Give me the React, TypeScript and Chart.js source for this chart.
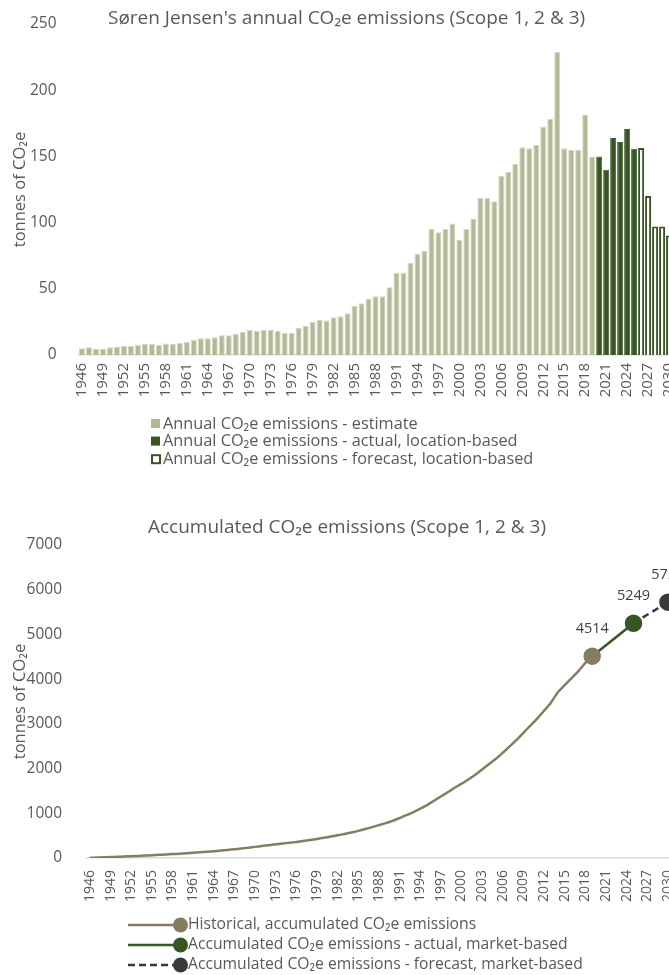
import React, { useEffect, useRef } from 'react';
import { Chart, registerables } from 'chart.js';

Chart.register(...registerables);

const FONT = '"Open Sans", sans-serif';
const TEXT = '#595959';

const years = [
  '1946','1947','1948','1949','1950','1951','1952','1953','1954','1955',
  '1956','1957','1958','1959','1960','1961','1962','1963','1964','1965',
  '1966','1967','1968','1969','1970','1971','1972','1973','1974','1975',
  '1976','1977','1978','1979','1980','1981','1982','1983','1984','1985',
  '1986','1987','1988','1989','1990','1991','1992','1993','1994','1995',
  '1996','1997','1998','1999','2000','2001','2002','2003','2004','2005',
  '2006','2007','2008','2009','2010','2011','2012','2013','2014','2015',
  '2016','2017','2018','2019','2020','2021','2022','2023','2024','2025',
  '2026','2027','2028','2029','2030','2031','2032','2033','2034','2035',
  '2036','2037','2038','2039','2040','2041','2042','2043','2044','2045',
];

const xTickLabels = [
  '1946','1949','1952','1955','1958','1961','1964','1967','1970','1973',
  '1976','1979','1982','1985','1988','1991','1994','1997','2000','2003',
  '2006','2009','2012','2015','2018','2021','2024','2027','2030','2033',
  '2036','2039','2042','2045',
];

// Annual emissions (tonnes CO2e)
const estimateStart = '1946';
const estimateValues = [
  5.1, 5.8, 4.8, 4.8, 5.8, 6.0, 6.8, 6.8, 7.6, 8.3,
  8.3, 7.8, 8.6, 8.3, 9.3, 9.8, 11.3, 12.6, 12.6, 13.4,
  14.9, 14.9, 16.1, 17.6, 18.9, 18.2, 18.9, 18.9, 18.2, 16.6,
  16.6, 20.4, 21.9, 25.0, 26.5, 26.0, 28.5, 29.2, 31.5, 37.1,
  39.1, 42.4, 44.3, 44.3, 51.2, 62.0, 62.3, 69.6, 76.2, 78.7,
  95.3, 92.8, 95.3, 99.3, 87.0, 95.3, 102.9, 118.5, 118.5, 116.2,
  135.4, 138.2, 144.3, 157.0, 156.2, 158.8, 172.5, 178.3, 229.0, 156.1,
  155.1, 155.1, 181.5, 150.0,
];
const actualStart = '2020';
const actualValues = [150.0, 140.0, 163.9, 160.9, 170.7, 155.8];
const forecastStart = '2026';
const forecastValues = [156.3, 120.0, 97.1, 97.1, 90.2];

// Accumulated emissions (tonnes CO2e)
const historicalStart = '1946';
const historicalAccum = [
  5, 11, 16, 21, 27, 33, 40, 46, 54, 63,
  71, 79, 88, 96, 105, 115, 127, 140, 152, 166,
  181, 196, 212, 230, 249, 268, 287, 306, 324, 341,
  358, 379, 401, 426, 453, 479, 508, 538, 570, 607,
  647, 690, 735, 779, 831, 894, 957, 1028, 1105, 1184,
  1281, 1375, 1471, 1572, 1660, 1756, 1861, 1981, 2101, 2218,
  2355, 2495, 2641, 2800, 2959, 3119, 3294, 3474, 3706, 3864,
  4021, 4179, 4362, 4514,
];
const actualAccumStart = '2019';
const actualAccum = [4514, 4636, 4759, 4882, 5004, 5127, 5249];
const forecastAccumStart = '2025';
const forecastAccum = [5249, 5344, 5439, 5533, 5628, 5722];

const topTitle = "Søren Jensen's annual CO\u2082e emissions (Scope 1, 2 & 3)";
const bottomTitle = 'Accumulated CO\u2082e emissions (Scope 1, 2 & 3)';
const yTitle = 'tonnes of CO\u2082e';
const barLabels = [
  'Annual CO\u2082e emissions - estimate',
  'Annual CO\u2082e emissions - actual, location-based',
  'Annual CO\u2082e emissions - forecast, location-based',
];
const lineLabels = [
  'Historical, accumulated CO\u2082e emissions',
  'Accumulated CO\u2082e emissions - actual, market-based',
  'Accumulated CO\u2082e emissions - forecast, market-based',
];

const C_EST = '#b1b995';
const C_ACT = '#375623';
const C_HIST = '#857d62';
const C_FC = '#3a3a3a';

function place(start: string, values: number[]) {
  const out: (number | null)[] = years.map(() => null);
  const s = years.indexOf(start);
  values.forEach((v, i) => { out[s + i] = v; });
  return out;
}

function xAxis(height: number, pad: number, size: number) {
  return {
    type: 'category' as const,
    offset: true,
    grid: { display: true, drawOnChartArea: false, drawTicks: false, color: 'rgba(0,0,0,0)' },
    border: { display: true, color: '#d9d9d9', width: 1.5 },
    ticks: {
      autoSkip: false,
      minRotation: 90,
      maxRotation: 90,
      padding: pad,
      color: TEXT,
      font: { family: FONT, size },
      callback: (_v: any, i: number) => (xTickLabels.includes(years[i]) ? years[i] : ''),
    },
    afterFit: (s: any) => { s.height = height; },
  };
}

function yAxis(width: number, max: number, step: number, size: number, pad: number) {
  return {
    min: 0,
    max,
    grid: { display: false },
    border: { display: false },
    ticks: {
      stepSize: step, padding: pad, color: TEXT, font: { family: FONT, size },
      callback: (v: any) => String(v),
    },
    title: { display: true, text: yTitle, color: TEXT, padding: 10, font: { family: FONT, size: 16.5 } },
    afterFit: (s: any) => { s.width = width; },
  };
}

const topDecor = {
  id: 'topDecor',
  afterDraw(chart: any) {
    const ctx = chart.ctx;
    ctx.save();
    ctx.fillStyle = TEXT;
    ctx.textBaseline = 'middle';
    ctx.textAlign = 'left';
    ctx.font = `19px ${FONT}`;
    ctx.fillText(topTitle, 108, 19);
    ctx.font = `16.3px ${FONT}`;
    chart.data.datasets.forEach((ds: any, i: number) => {
      const y = 424 + i * 17.6;
      if (ds.backgroundColor === '#ffffff') {
        ctx.fillStyle = '#ffffff';
        ctx.fillRect(152, y - 4, 8, 8);
        ctx.strokeStyle = ds.borderColor;
        ctx.lineWidth = 2;
        ctx.strokeRect(152, y - 4, 8, 8);
      } else {
        ctx.fillStyle = ds.backgroundColor;
        ctx.fillRect(151, y - 5, 9, 9);
      }
      ctx.fillStyle = TEXT;
      ctx.fillText(ds.label, 163, y);
    });
    ctx.restore();
  },
};

const bottomDecor = {
  id: 'bottomDecor',
  afterDraw(chart: any) {
    const ctx = chart.ctx;
    ctx.save();
    ctx.fillStyle = TEXT;
    ctx.textBaseline = 'middle';
    ctx.textAlign = 'left';
    ctx.font = `19px ${FONT}`;
    ctx.fillText(bottomTitle, 148, 48);
    // value labels at series end points
    ctx.font = `14.5px ${FONT}`;
    ctx.textAlign = 'center';
    ctx.fillStyle = '#404040';
    chart.data.datasets.forEach((ds: any, i: number) => {
      let last = -1;
      ds.data.forEach((v: any, k: number) => { if (v !== null) last = k; });
      const el = chart.getDatasetMeta(i).data[last];
      if (el) ctx.fillText(String(ds.data[last]), el.x, el.y - 27);
    });
    // legend
    ctx.textAlign = 'left';
    chart.data.datasets.forEach((ds: any, i: number) => {
      const y = 445 + i * 20;
      ctx.strokeStyle = ds.borderColor;
      ctx.lineWidth = 2.5;
      ctx.setLineDash(ds.borderDash || []);
      ctx.beginPath();
      ctx.moveTo(128, y);
      ctx.lineTo(180, y);
      ctx.stroke();
      ctx.setLineDash([]);
      ctx.fillStyle = ds.borderColor;
      ctx.beginPath();
      ctx.arc(180.5, y, 7.5, 0, Math.PI * 2);
      ctx.fill();
      ctx.fillStyle = TEXT;
      ctx.font = `15.7px ${FONT}`;
      ctx.fillText(ds.label, 188, y);
    });
    ctx.restore();
  },
};

function lastIndexRadius(r: number) {
  return (ctx: any) => {
    const data = ctx.dataset.data;
    let last = -1;
    data.forEach((v: any, k: number) => { if (v !== null) last = k; });
    return ctx.dataIndex === last ? r : 0;
  };
}

export default function App() {
  const topRef = useRef<HTMLCanvasElement>(null);
  const botRef = useRef<HTMLCanvasElement>(null);

  useEffect(() => {
    const top = new Chart(topRef.current!, {
      type: 'bar',
      data: {
        labels: years,
        datasets: [
          { label: barLabels[0], data: place(estimateStart, estimateValues), backgroundColor: C_EST, borderColor: '#d3d8c3', borderWidth: 1, grouped: false, barPercentage: 0.86, categoryPercentage: 1 },
          { label: barLabels[1], data: place(actualStart, actualValues), backgroundColor: C_ACT, borderColor: '#46633a', borderWidth: 1, grouped: false, barPercentage: 0.86, categoryPercentage: 1 },
          { label: barLabels[2], data: place(forecastStart, forecastValues), backgroundColor: '#ffffff', borderColor: C_ACT, borderWidth: 2, grouped: false, barPercentage: 0.86, categoryPercentage: 1 },
        ] as any,
      },
      options: {
        animation: false,
        responsive: false,
        maintainAspectRatio: false,
        layout: { padding: { top: 24, right: 20, bottom: 80, left: 0 } },
        plugins: { legend: { display: false }, title: { display: false }, tooltip: { enabled: false } },
        scales: { x: xAxis(45, 8, 15) as any, y: yAxis(78.5, 250, 50, 15.5, 14) as any },
      },
      plugins: [topDecor],
    });

    const bottom = new Chart(botRef.current!, {
      type: 'line',
      data: {
        labels: years,
        datasets: [
          { label: lineLabels[0], data: place(historicalStart, historicalAccum), borderColor: C_HIST, backgroundColor: C_HIST, borderWidth: 2.5, pointRadius: lastIndexRadius(7.5), pointBackgroundColor: C_HIST, pointBorderColor: C_HIST, tension: 0.2 },
          { label: lineLabels[1], data: place(actualAccumStart, actualAccum), borderColor: C_ACT, backgroundColor: C_ACT, borderWidth: 2.5, pointRadius: lastIndexRadius(7.5), pointBackgroundColor: C_ACT, pointBorderColor: C_ACT, tension: 0.2 },
          { label: lineLabels[2], data: place(forecastAccumStart, forecastAccum), borderColor: C_FC, backgroundColor: C_FC, borderWidth: 2.5, borderDash: [7, 4], pointRadius: lastIndexRadius(7.5), pointBackgroundColor: C_FC, pointBorderColor: C_FC, tension: 0.2 },
        ] as any,
      },
      options: {
        animation: false,
        responsive: false,
        maintainAspectRatio: false,
        layout: { padding: { top: 65, right: 20, bottom: 72, left: 0 } },
        plugins: { legend: { display: false }, title: { display: false }, tooltip: { enabled: false } },
        scales: { x: xAxis(45, 12, 14) as any, y: yAxis(86.5, 7000, 1000, 15.5, 16.5) as any },
      },
      plugins: [bottomDecor],
    });

    return () => { top.destroy(); bottom.destroy(); };
  }, []);

  return (
    <div style={{ position: 'fixed', left: 0, top: 0, width: 669, height: 975, overflow: 'hidden', background: '#ffffff' }}>
      <canvas ref={topRef} width={800} height={480} style={{ position: 'absolute', left: 0, top: 0, width: 800, height: 480 }} />
      <canvas ref={botRef} width={800} height={495} style={{ position: 'absolute', left: 0, top: 480, width: 800, height: 495 }} />
    </div>
  );
}
